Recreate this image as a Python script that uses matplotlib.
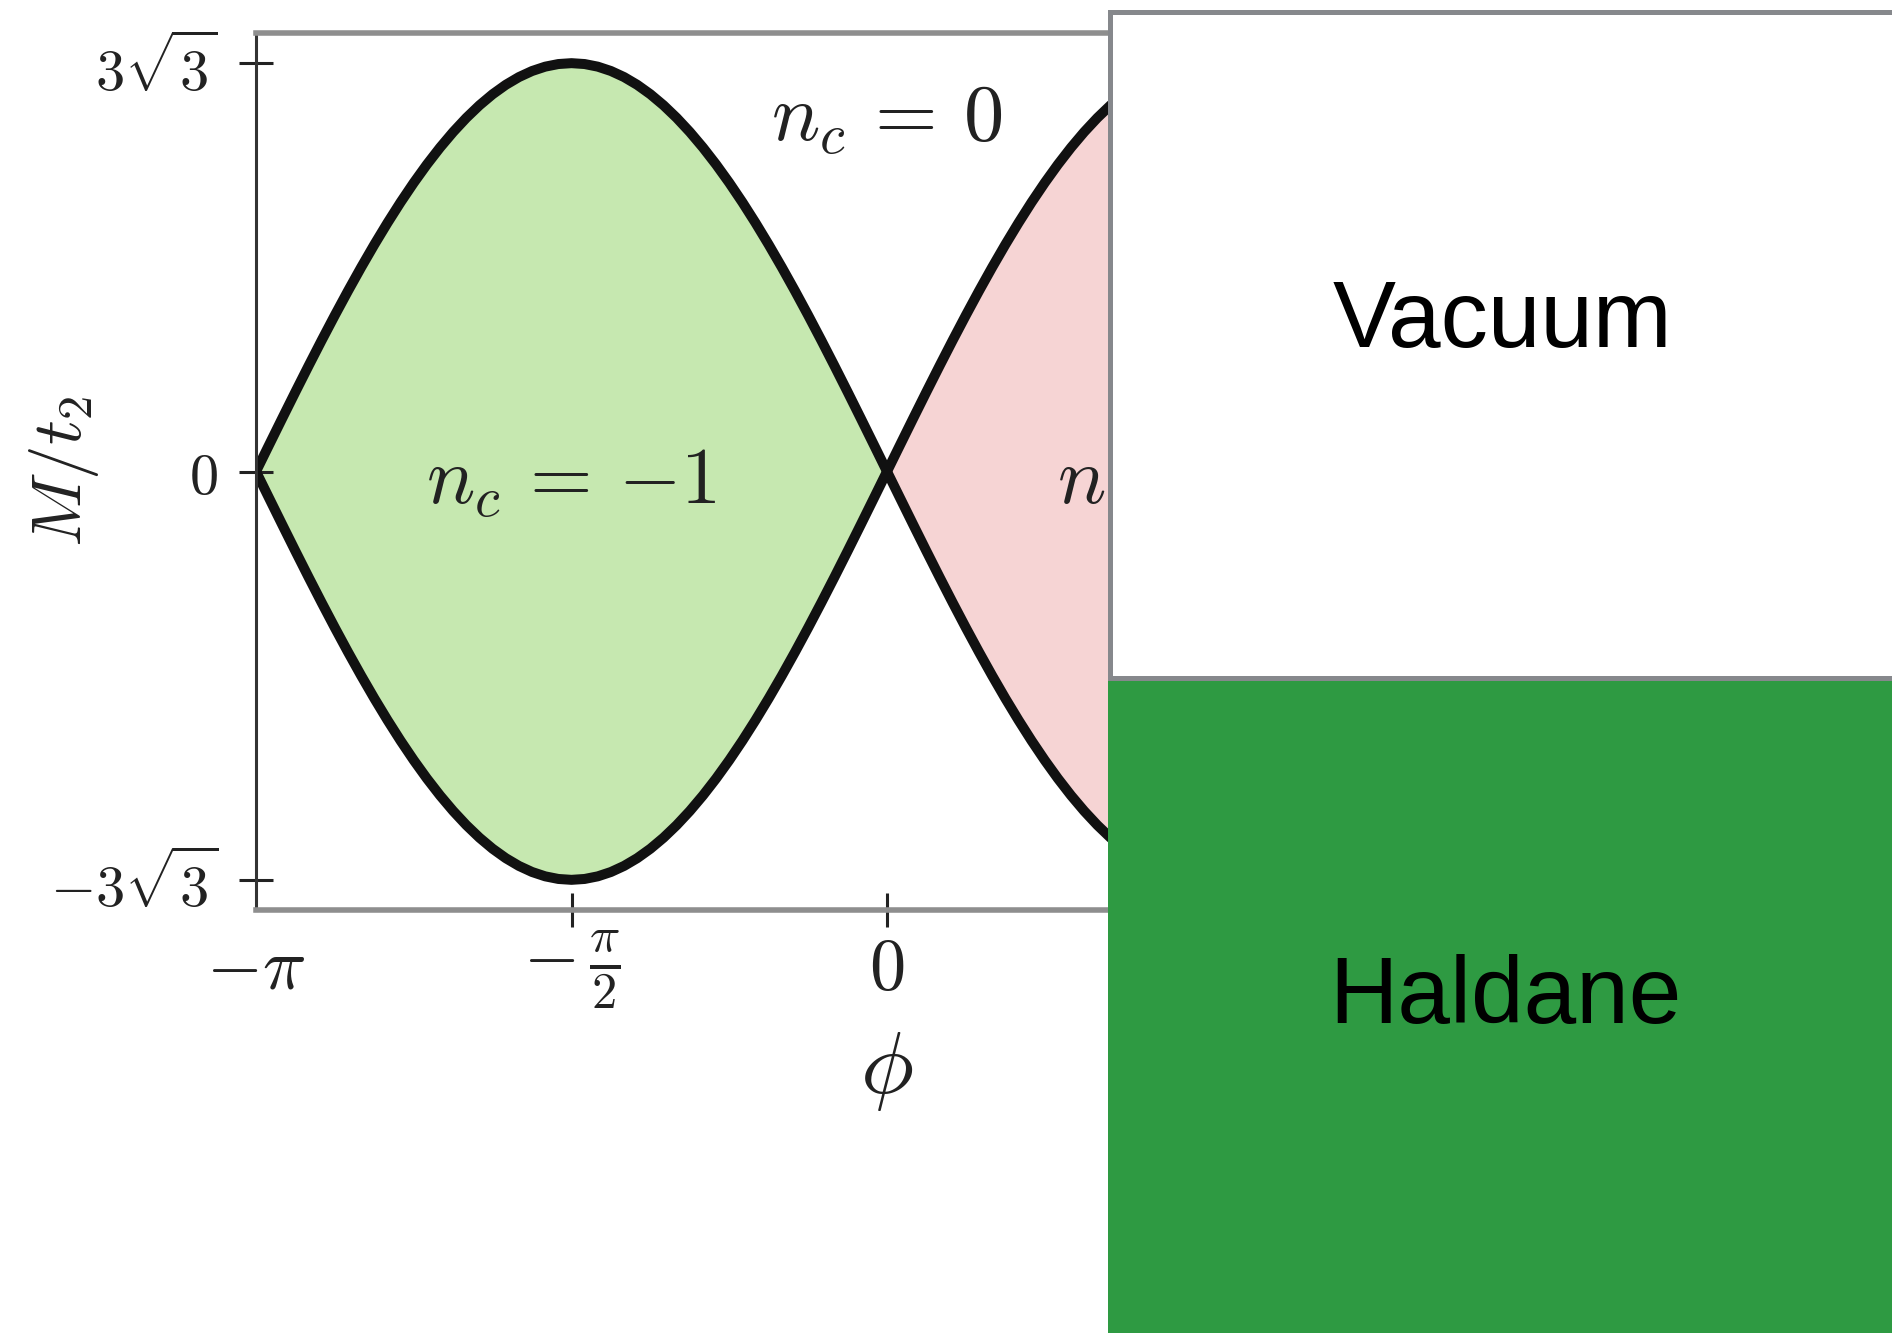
import numpy as np
import matplotlib
matplotlib.use("Agg")
import matplotlib.pyplot as plt
from matplotlib.patches import Rectangle

plt.rcParams["mathtext.fontset"] = "cm"

# Phase boundary |M|/t2 over one quarter period, phi = 0 .. pi/2 in steps of pi/48
quarter = [0.0000, 0.3398, 0.6782, 1.0137, 1.3449, 1.6703, 1.9885, 2.2982,
           2.5981, 2.8869, 3.1632, 3.4261, 3.6742, 3.9067, 4.1224, 4.3205,
           4.5000, 4.6603, 4.8006, 4.9204, 5.0191, 5.0963, 5.1517, 5.1850,
           5.1962]
lobe = quarter + quarter[-2::-1]            # phi = 0 .. pi
boundary = np.array(lobe[:-1] + lobe)       # phi = -pi .. pi
phi = np.linspace(-np.pi, np.pi, boundary.size)

# ticks on the visible part of the phi axis (the right half sits under the side panels)
x_ticks = [-np.pi, -np.pi / 2, 0]
x_ticklabels = [r"$-\pi$", r"$-\,\frac{\pi}{2}$", r"$0$"]
y_peak = max(quarter)
y_ticks = [-y_peak, 0, y_peak]
y_ticklabels = [r"$-3\sqrt{3}$", r"$0$", r"$3\sqrt{3}$"]

region_labels = [(-np.pi / 2, -0.40, r"$n_c\,=\,{-}1$"),
                 (0.0, 4.22, r"$n_c\,=\,0$"),
                 (np.pi / 2, -0.40, r"$n_c\,=\,{+}1$")]

W, H = 1892, 1333
fig = plt.figure(figsize=(W / 100, H / 100), dpi=100)
ax = fig.add_axes([256 / W, 1 - 910 / H, (1518 - 256) / W, 877 / H])
ax.set_xlim(-np.pi, np.pi)
ax.set_ylim(-5.58, 5.58)

neg = phi <= 0
pos = phi >= 0
ax.fill_between(phi[neg], -boundary[neg], boundary[neg], color="#c6e8b0", lw=0)
ax.fill_between(phi[pos], -boundary[pos], boundary[pos], color="#f6d4d4", lw=0)
for sign in (1, -1):
    ax.plot(phi, sign * boundary, color="#111111", lw=7.2,
            solid_joinstyle="round", solid_capstyle="round")

for x, y, s in region_labels:
    ax.text(x, y, s, fontsize=58, ha="center", va="baseline", color="#222222")

ax.set_xticks(x_ticks)
ax.set_xticklabels(x_ticklabels)
ax.set_yticks(y_ticks)
ax.set_yticklabels(y_ticklabels)
ax.tick_params(axis="both", direction="inout", length=25, width=2.2,
               color="#222222", labelcolor="#222222")
ax.tick_params(axis="x", pad=30, labelsize=52)
ax.tick_params(axis="y", pad=15, labelsize=42)
for lab in ax.get_xticklabels():
    lab.set_verticalalignment("center")
ax.xaxis.get_major_ticks()[0].tick1line.set_visible(False)

for side in ("top", "bottom"):
    ax.spines[side].set_color("#8e8e8e")
    ax.spines[side].set_linewidth(4)
ax.spines["left"].set_color("#333333")
ax.spines["left"].set_linewidth(2.2)
ax.spines["right"].set_visible(False)

ax.set_xlabel(r"$\phi$", fontsize=64, color="#222222")
ax.xaxis.label.set_verticalalignment("center")
ax.xaxis.set_label_coords(0.5, -0.1824)
ax.set_ylabel(r"$M/t_2$", fontsize=50, color="#222222")
ax.yaxis.label.set_verticalalignment("center")
ax.yaxis.set_label_coords(-0.152, 0.5)

# Side panels
fig.patches.append(Rectangle((1108 / W, 0), 1.0, 1 - 678 / H,
                             transform=fig.transFigure, facecolor="#2e9a42",
                             edgecolor="none", zorder=5))
fig.patches.append(Rectangle((1110 / W, 1 - 678 / H), 1.0, (678 - 12) / H,
                             transform=fig.transFigure, facecolor="white",
                             edgecolor="#86888c", linewidth=3.6, zorder=6))
fig.text(1502 / W, 1 - 347 / H, "Vacuum", fontsize=68, family="Liberation Sans",
         ha="center", va="baseline", color="black", zorder=7)
fig.text(1505 / W, 1 - 1023 / H, "Haldane", fontsize=68, family="Liberation Sans",
         ha="center", va="baseline", color="black", zorder=7)

fig.savefig("out.png", dpi=100)
